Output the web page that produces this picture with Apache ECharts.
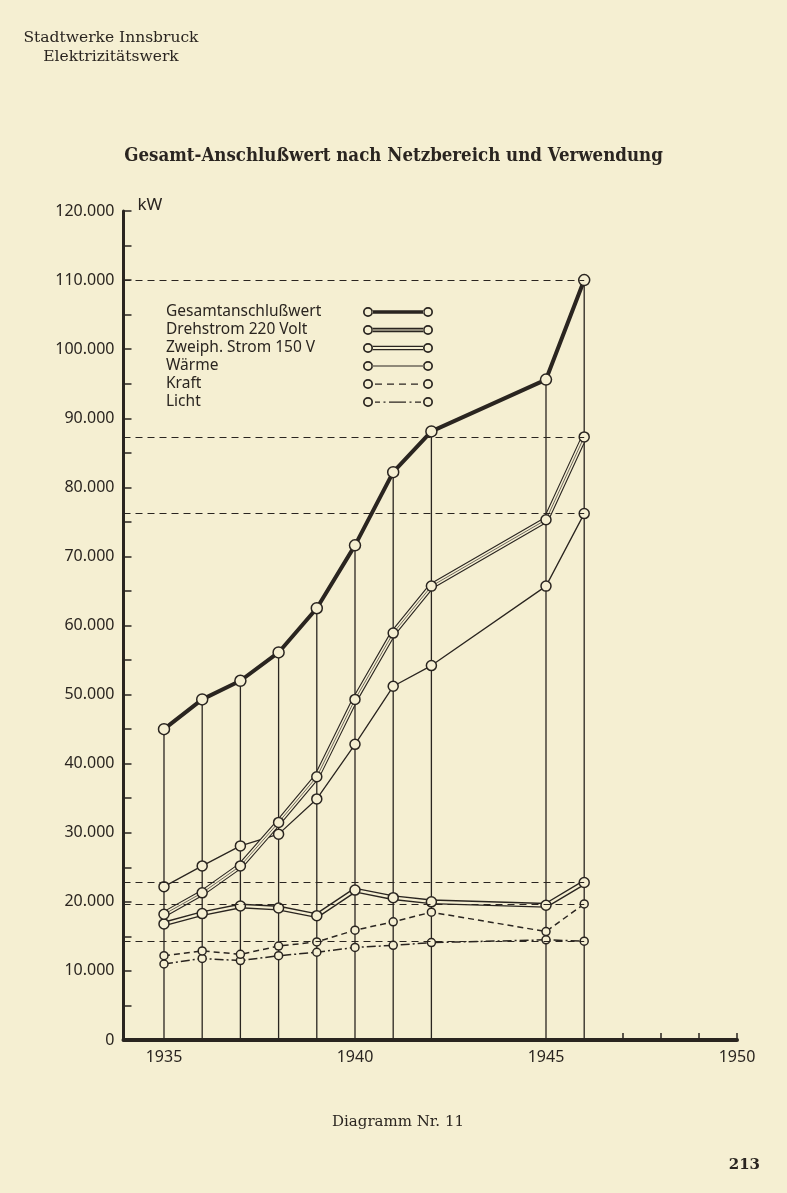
<!DOCTYPE html>
<html><head><meta charset="utf-8">
<style>html,body{margin:0;padding:0;background:#f5efd2;}#c{width:787px;height:1193px;}</style>
<script src="https://cdn.jsdelivr.net/npm/echarts@6/dist/echarts.min.js"></script>
</head><body><div id="c"></div>
<script>
// ---- data ----
const years      = [1935, 1936, 1937, 1938, 1939, 1940, 1941, 1942, 1945, 1946];
const gesamt     = [45000, 49300, 52000, 56100, 62500, 71600, 82200, 88100, 95600, 110000];
const drehstrom  = [18200, 21300, 25200, 31500, 38100, 49300, 58900, 65700, 75300, 87300];
const zweiph     = [16800, 18300, 19400, 19100, 18000, 21700, 20600, 20000, 19500, 22800];
const waerme     = [22200, 25200, 28100, 29800, 34900, 42800, 51200, 54200, 65700, 76200];
const kraft      = [12200, 12900, 12400, 13600, 14200, 15900, 17100, 18500, 15700, 19700];
const licht      = [11000, 11800, 11500, 12200, 12700, 13400, 13700, 14100, 14500, 14300];
const seriesNames = ['Gesamtanschlußwert', 'Drehstrom 220 Volt', 'Zweiph. Strom 150 V', 'Wärme', 'Kraft', 'Licht'];
const xTickYears  = [1947, 1948, 1949, 1950];
const xLabelYears = [1935, 1940, 1945, 1950];
const yLabelValues = [0, 10000, 20000, 30000, 40000, 50000, 60000, 70000, 80000, 90000, 100000, 110000, 120000];

// ---- styling ----
const INK = '#2a2520';
const PAPER = '#f5efd2';
const X_MIN = 1933.94, X_MAX = 1950;
const SANS = 'Noto Sans';
const SERIF = 'DejaVu Serif';

function pts(arr) { return years.map((y, i) => [y, arr[i]]); }
const lastYear = years[years.length - 1];
function refLine(arr) {
  const v = arr[arr.length - 1];
  return {
    silent: true, symbol: ['none', 'none'], label: { show: false },
    emphasis: { disabled: true },
    lineStyle: { color: INK, width: 1.1, type: [7, 5] },
    data: [[{ coord: [X_MIN, v] }, { coord: [lastYear, v] }]]
  };
}
function layer(name, arr, width, color, opt) {
  opt = opt || {};
  const s = {
    type: 'line', name: name, data: pts(arr), z: opt.z || 3,
    lineStyle: { color: color, width: width, type: opt.type || 'solid' },
    itemStyle: { color: PAPER, borderColor: INK, borderWidth: 1.5 },
    symbol: opt.symbolSize ? 'circle' : 'none',
    symbolSize: opt.symbolSize || 0,
    showSymbol: !!opt.symbolSize,
    emphasis: { disabled: true },
    silent: true
  };
  if (opt.markLine) s.markLine = refLine(arr);
  return s;
}

// legend icons (width 70, height 10): ring – line – ring
function ring(cx) {
  return `M${cx - 5},5 a5,5 0 1,0 10,0 a5,5 0 1,0 -10,0 Z M${cx - 3.3},5 a3.3,3.3 0 1,1 6.6,0 a3.3,3.3 0 1,1 -6.6,0 Z `;
}
function rect(x, y, w, h) { return `M${x},${y} h${w} v${h} h${-w} Z `; }
const rings = ring(5) + ring(65);
const icons = [
  rings + rect(9.5, 3.2, 51, 3.6),
  rings + rect(9.5, 2.8, 51, 1.1) + rect(9.5, 4.6, 51, 0.8) + rect(9.5, 6.1, 51, 1.1),
  rings + rect(9.5, 2.8, 51, 1.1) + rect(9.5, 6.1, 51, 1.1),
  rings + rect(9.5, 4.4, 51, 1.2),
  rings + rect(12, 4.4, 7, 1.3) + rect(24, 4.4, 7, 1.3) + rect(36, 4.4, 7, 1.3) + rect(48, 4.4, 7, 1.3),
  rings + rect(12, 4.4, 5, 1.3) + rect(20.5, 4.4, 2, 1.3) + rect(26, 4.4, 17, 1.3) + rect(46.5, 4.4, 2, 1.3) + rect(52, 4.4, 6, 1.3)
];

const chart = echarts.init(document.getElementById('c'), null, { renderer: 'canvas' });
chart.setOption({
  backgroundColor: PAPER,
  animation: false,
  title: [
    { text: 'Gesamt-Anschlußwert nach Netzbereich und Verwendung', left: 'center', top: 142,
      textStyle: { fontFamily: 'DejaVu Serif Condensed', fontWeight: 'bold', fontSize: 18.5, color: INK } },
    { text: 'Stadtwerke Innsbruck\nElektrizitätswerk', left: 106, top: 23, textAlign: 'center',
      textStyle: { fontFamily: SERIF, fontWeight: 'normal', fontSize: 15.5, lineHeight: 19, color: INK } },
    { text: 'Diagramm Nr. 11', left: 393, top: 1110, textAlign: 'center',
      textStyle: { fontFamily: SERIF, fontWeight: 'normal', fontSize: 15, color: INK } },
    { text: '213', right: 22, top: 1153,
      textStyle: { fontFamily: SERIF, fontWeight: 'bold', fontSize: 15, color: INK } }
  ],
  legend: {
    orient: 'vertical', left: 161, top: 299, align: 'right',
    itemWidth: 70, itemHeight: 10, itemGap: 2,
    selectedMode: false,
    itemStyle: { color: INK, borderColor: INK, borderWidth: 0 },
    formatter: n => '{t|' + n + '}',
    textStyle: { rich: { t: { width: 192, align: 'left', fontFamily: SANS, fontSize: 15.5, lineHeight: 16, color: INK } } },
    data: seriesNames.map((n, i) => ({ name: n, icon: 'path://' + icons[i] }))
  },
  grid: { left: 123.5, right: 50, top: 211, bottom: 153, containLabel: false },
  xAxis: {
    type: 'value', min: X_MIN, max: X_MAX,
    axisLine: { show: true, onZero: false, lineStyle: { color: INK, width: 4 } },
    axisTick: { show: true, inside: true, length: 7, customValues: xTickYears, lineStyle: { color: INK, width: 1.5 } },
    axisLabel: { show: true, customValues: xLabelYears, formatter: v => String(v), margin: 9,
      fontFamily: SANS, fontSize: 16, color: INK },
    splitLine: { show: false }
  },
  yAxis: {
    type: 'value', min: 0, max: 120000, interval: 5000,
    name: 'kW', nameLocation: 'end', nameGap: 6,
    nameTextStyle: { fontFamily: SANS, fontSize: 17, color: INK, align: 'left', verticalAlign: 'middle', padding: [0, 0, 0, 14] },
    axisLine: { show: true, lineStyle: { color: INK, width: 3 } },
    axisTick: { show: true, inside: true, length: 8, lineStyle: { color: INK, width: 1.5 } },
    axisLabel: { margin: 9, fontFamily: SANS, fontSize: 16, color: INK,
      formatter: v => yLabelValues.indexOf(v) < 0 ? '' : (v === 0 ? '0' : (v / 1000) + '.000') },
    splitLine: { show: false }
  },
  series: [
    { type: 'bar', name: 'Jahreslinien', data: pts(gesamt), barWidth: 1.3, z: 1, silent: true,
      itemStyle: { color: INK }, emphasis: { disabled: true } },
    // Licht
    layer(seriesNames[5], licht, 1.5, INK, { type: [9, 3, 2, 3], symbolSize: 8, markLine: true }),
    // Kraft
    layer(seriesNames[4], kraft, 1.5, INK, { type: [6, 4], symbolSize: 8, markLine: true }),
    // Zweiph. Strom (hollow double line)
    layer(seriesNames[2], zweiph, 5, INK, { markLine: true }),
    layer(seriesNames[2], zweiph, 2.2, PAPER, { symbolSize: 10 }),
    // Wärme
    layer(seriesNames[3], waerme, 1.3, INK, { symbolSize: 10, markLine: true }),
    // Drehstrom (triple line)
    layer(seriesNames[1], drehstrom, 6, INK, { markLine: true }),
    layer(seriesNames[1], drehstrom, 3.8, PAPER, {}),
    layer(seriesNames[1], drehstrom, 1, '#6d665b', { symbolSize: 10 }),
    // Gesamt
    layer(seriesNames[0], gesamt, 4, INK, { symbolSize: 11, markLine: true })
  ]
});
</script>
</body></html>
